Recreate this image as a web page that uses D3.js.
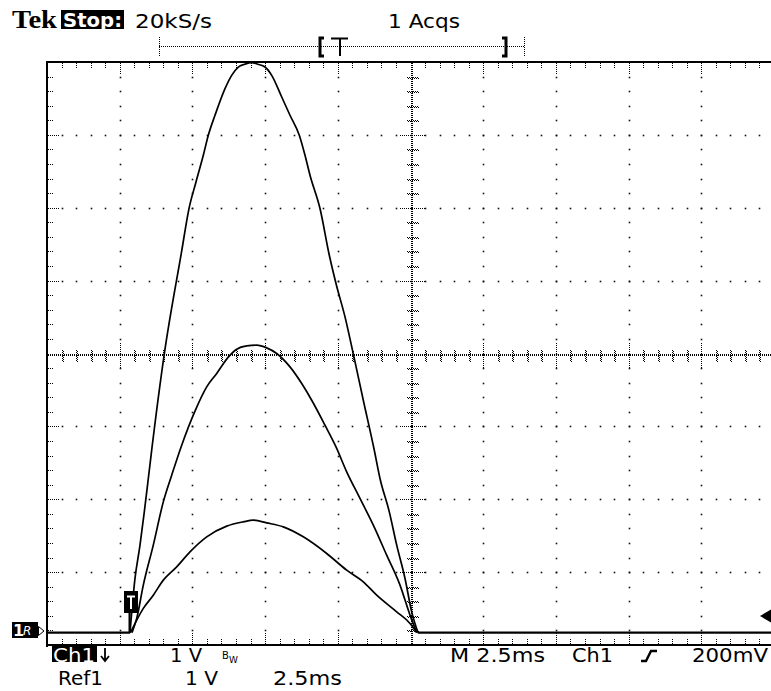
<!DOCTYPE html>
<html>
<head>
<meta charset="utf-8">
<script src="https://cdn.jsdelivr.net/npm/d3@7"></script>
<style>
  html, body { margin: 0; padding: 0; background: #fff; }
  svg { display: block; }
  text { font-family: "DejaVu Sans", Verdana, sans-serif; fill: #000; }
</style>
</head>
<body>
<div id="chart"></div>
<script>
// scope settings
const msPerDiv = 2.5;
const voltsPerDiv = 1;
const groundDiv = -3.83;   // ground marker, in divisions from screen centre

// traces: [time ms, volts]
const traceLarge = [
  [2.854, 0], [3.026, 0.743], [3.198, 1.200], [3.346, 1.657], [3.484, 2.115], [3.600, 2.503],
  [4.034, 3.824], [4.625, 5.220], [4.883, 5.819], [5.124, 6.184], [5.375, 6.550], [5.547, 6.824],
  [5.777, 7.099], [6.121, 7.465], [6.351, 7.647], [6.578, 7.761], [6.800, 7.80], [7.039, 7.822],
  [7.250, 7.80], [7.497, 7.761], [7.727, 7.647], [8.071, 7.350], [8.356, 7.099], [8.676, 6.824],
  [8.872, 6.550], [9.044, 6.276], [9.388, 5.819], [9.708, 5.178], [9.938, 4.790], [10.248, 4.332],
  [10.533, 3.824], [10.877, 3.189], [11.255, 2.503], [11.451, 2.115], [11.771, 1.657], [12.026, 1.200],
  [12.311, 0.743], [12.541, 0.285], [12.758, 0]
];
const traceMid = [
  [2.923, 0], [3.085, 0.195], [3.312, 0.652], [3.655, 1.200], [3.999, 1.794], [4.288, 2.160],
  [4.632, 2.572], [5.100, 3.050], [5.492, 3.372], [5.836, 3.556], [6.240, 3.783], [6.523, 3.889],
  [6.867, 3.934], [7.211, 3.944], [7.555, 3.907], [7.899, 3.830], [8.356, 3.646], [8.759, 3.418],
  [9.103, 3.189], [9.560, 2.846], [9.938, 2.549], [10.306, 2.206], [10.763, 1.841], [11.221, 1.475],
  [11.681, 1.063], [12.139, 0.652], [12.483, 0.240], [12.713, 0]
];
const traceSmall = [
  [2.871, 0], [3.312, 0.332], [3.655, 0.514], [3.999, 0.720], [4.460, 0.903], [4.917, 1.108],
  [5.492, 1.314], [6.180, 1.461], [6.750, 1.520], [7.094, 1.543], [7.555, 1.506], [8.126, 1.451],
  [8.814, 1.314], [9.618, 1.086], [10.306, 0.857], [10.877, 0.697], [11.338, 0.514], [12.026, 0.285],
  [12.483, 0.126], [12.713, 0]
];
const groundBefore = [[0, 0], [2.86, 0]];
const groundAfter = [[12.75, 0], [25, 0]];

// readouts
const headerLabels = ["20kS/s", "1 Acqs"];
const footerRow1 = ["1 V", "M 2.5ms", "Ch1", "200mV"];
const footerRow2 = ["Ref1", "1 V", "2.5ms"];

const width = 771, height = 691;
const svg = d3.select("#chart").append("svg")
  .attr("width", width).attr("height", height);

const x = d3.scaleLinear().domain([0, 10 * msPerDiv]).range([47, 774]);
const yDiv = d3.scaleLinear().domain([-4, 4]).range([645, 62]);
const y = d3.scaleLinear()
  .domain([(-4 - groundDiv) * voltsPerDiv, (4 - groundDiv) * voltsPerDiv])
  .range([645, 62]);

const xMinor = d3.range(0, 50.5).map(i => i * msPerDiv / 5);
const yMinor = d3.range(0, 40.5).map(i => -4 + i * 0.2);
const xMajor = d3.range(1, 10).map(i => i * msPerDiv);
const yMajor = d3.range(-3, 4);
const isMajorX = t => Math.abs(t / msPerDiv - Math.round(t / msPerDiv)) < 1e-6;
const isMajorY = d => Math.abs(d - Math.round(d)) < 1e-6;

const grid = svg.append("g");
const px = v => Math.round(v) + 0.5;

// dots along major gridlines
const dot = (cx, cy) => grid.append("rect").attr("x", cx - 0.8).attr("y", cy - 0.8)
  .attr("width", 1.6).attr("height", 1.6).attr("fill", "#111");
xMajor.filter(t => t !== 5 * msPerDiv).forEach(t => {
  yMinor.slice(1, -1).forEach(d => dot(px(x(t)), px(yDiv(d))));
});
yMajor.filter(d => d !== 0).forEach(d => {
  xMinor.slice(1).forEach(t => dot(px(x(t)), px(yDiv(d))));
});

// centre cross, densely dotted
const dense = svg.append("g").attr("shape-rendering", "crispEdges");
const dotted = (x1, y1, x2, y2) => dense.append("line")
  .attr("x1", x1).attr("y1", y1).attr("x2", x2).attr("y2", y2)
  .attr("stroke", "#000").attr("stroke-width", 1).attr("stroke-dasharray", "1,1");

const cx = px(x(5 * msPerDiv)), cy = px(yDiv(0));
dotted(cx, 63, cx, 644);
dotted(cx + 1, 63, cx + 1, 644);
dotted(48, cy, 771, cy);
dotted(48, cy + 1, 771, cy + 1);
yMinor.slice(1, -1).forEach(d => {
  if (d === 0) return;
  const yy = px(yDiv(d));
  const half = isMajorY(d) ? 12 : 5;
  dotted(cx - half, yy, cx + half + 1, yy);
  if (!isMajorY(d)) dotted(cx - half + 1, yy + 1, cx + half + 2, yy + 1);
});
xMinor.slice(1).forEach(t => {
  if (t === 5 * msPerDiv) return;
  const xx = px(x(t));
  const half = isMajorX(t) ? 12 : 5;
  dotted(xx, cy - half, xx, cy + half + 1);
  if (!isMajorX(t)) dotted(xx + 1, cy - half + 1, xx + 1, cy + half + 2);
});

// border ticks
xMinor.slice(1).forEach(t => {
  const xx = px(x(t));
  const len = isMajorX(t) ? 11 : 5;
  dotted(xx, 63, xx, 63 + len);
  dotted(xx, 644 - len, xx, 644);
});
yMinor.slice(1, -1).forEach(d => {
  const yy = px(yDiv(d));
  const len = isMajorY(d) ? 11 : 5;
  dotted(48, yy, 48 + len, yy);
});

// frame
dense.append("rect").attr("x", 46).attr("y", 61).attr("width", 2).attr("height", 586).attr("fill", "#000");
dense.append("rect").attr("x", 46).attr("y", 61).attr("width", 730).attr("height", 2).attr("fill", "#000");
dense.append("rect").attr("x", 46).attr("y", 644).attr("width", 730).attr("height", 2).attr("fill", "#000");

// traces
const line = d3.line().x(d => x(d[0])).y(d => y(d[1])).curve(d3.curveMonotoneX);
const traces = svg.append("g").attr("fill", "none").attr("stroke", "#000")
  .attr("stroke-linejoin", "round");
[traceLarge, traceMid, traceSmall].forEach(tr => {
  traces.append("path").attr("d", line(tr)).attr("stroke-width", 1.7);
});
[groundBefore, groundAfter].forEach(g => {
  traces.append("path").attr("d", line(g)).attr("stroke-width", 2.4);
});

// trigger marker on the trace
const tx = x(traceLarge[0][0]);
svg.append("rect").attr("x", tx - 1.5).attr("y", 612).attr("width", 2.2).attr("height", y(0) - 612).attr("fill", "#000");
svg.append("rect").attr("x", tx - 6).attr("y", 591).attr("width", 14).attr("height", 22).attr("fill", "#000");
svg.append("path").attr("d", `M${tx - 3},596.5H${tx + 5}M${tx + 1},596.5V609`)
  .attr("stroke", "#fff").attr("stroke-width", 2).attr("fill", "none");

// ground marker
svg.append("rect").attr("x", 12).attr("y", 622).attr("width", 26).attr("height", 16).attr("fill", "#000");
svg.append("text").attr("x", 13).attr("y", 636).attr("font-size", 16).attr("font-weight", "bold")
  .style("fill", "#fff").text("1");
svg.append("text").attr("x", 23).attr("y", 635).attr("font-size", 12).attr("font-style", "italic")
  .style("fill", "#fff").text("R");
svg.append("path").attr("d", "M38.5,626.5L44,631L38.5,635.5Z")
  .attr("fill", "#fff").attr("stroke", "#000").attr("stroke-width", 1);

// trigger level arrow, right edge
svg.append("path").attr("d", "M760,616L771,609.5L771,622.5Z").attr("fill", "#000");

// trigger position bar
dotted(159, 46.5, 524, 46.5);
dotted(159.5, 37, 159.5, 57);
dotted(524.5, 37, 524.5, 57);
svg.append("path").attr("d", "M324,38H320V56H324").attr("fill", "none").attr("stroke", "#000").attr("stroke-width", 3);
svg.append("path").attr("d", "M502,38H506V56H502").attr("fill", "none").attr("stroke", "#000").attr("stroke-width", 3);
svg.append("path").attr("d", "M331,38.5H348M340,38.5V56").attr("fill", "none").attr("stroke", "#000").attr("stroke-width", 2);

// header
svg.append("text").attr("x", 12).attr("y", 28).attr("font-size", 25)
  .style("font-family", "'Liberation Serif', 'DejaVu Serif', serif").attr("font-weight", "bold")
  .attr("textLength", 45).attr("lengthAdjust", "spacingAndGlyphs").text("Tek");
svg.append("rect").attr("x", 61).attr("y", 10).attr("width", 63).attr("height", 19).attr("fill", "#000");
svg.append("text").attr("x", 63).attr("y", 27).attr("font-size", 19).attr("font-weight", "bold")
  .style("fill", "#fff").attr("textLength", 59).attr("lengthAdjust", "spacingAndGlyphs").text("Stop:");

const label = (t, x0, base, len) => svg.append("text").attr("x", x0).attr("y", base)
  .attr("font-size", 19).attr("textLength", len).attr("lengthAdjust", "spacingAndGlyphs").text(t);

label(headerLabels[0], 135, 28, 77);
label(headerLabels[1], 388, 28, 72);

// footer
svg.append("rect").attr("x", 52).attr("y", 646).attr("width", 45).attr("height", 16).attr("fill", "#000");
svg.append("text").attr("x", 53).attr("y", 662).attr("font-size", 19)
  .style("fill", "#fff").attr("textLength", 42).attr("lengthAdjust", "spacingAndGlyphs").text("Ch1");
svg.append("path").attr("d", "M105,648V661M101,656L105,661L109,656")
  .attr("fill", "none").attr("stroke", "#000").attr("stroke-width", 1.8);

label(footerRow1[0], 170, 662, 32);
svg.append("text").attr("x", 222).attr("y", 659).attr("font-size", 10).text("B");
svg.append("text").attr("x", 229).attr("y", 663).attr("font-size", 9).text("W");
label(footerRow1[1], 450, 662, 95);
label(footerRow1[2], 572, 662, 41);
svg.append("path").attr("d", "M641,661H646L651,651H657")
  .attr("fill", "none").attr("stroke", "#000").attr("stroke-width", 2.4);
label(footerRow1[3], 692, 662, 76);

label(footerRow2[0], 58, 685, 45);
label(footerRow2[1], 185, 685, 33);
label(footerRow2[2], 273, 685, 69);
</script>
</body>
</html>
